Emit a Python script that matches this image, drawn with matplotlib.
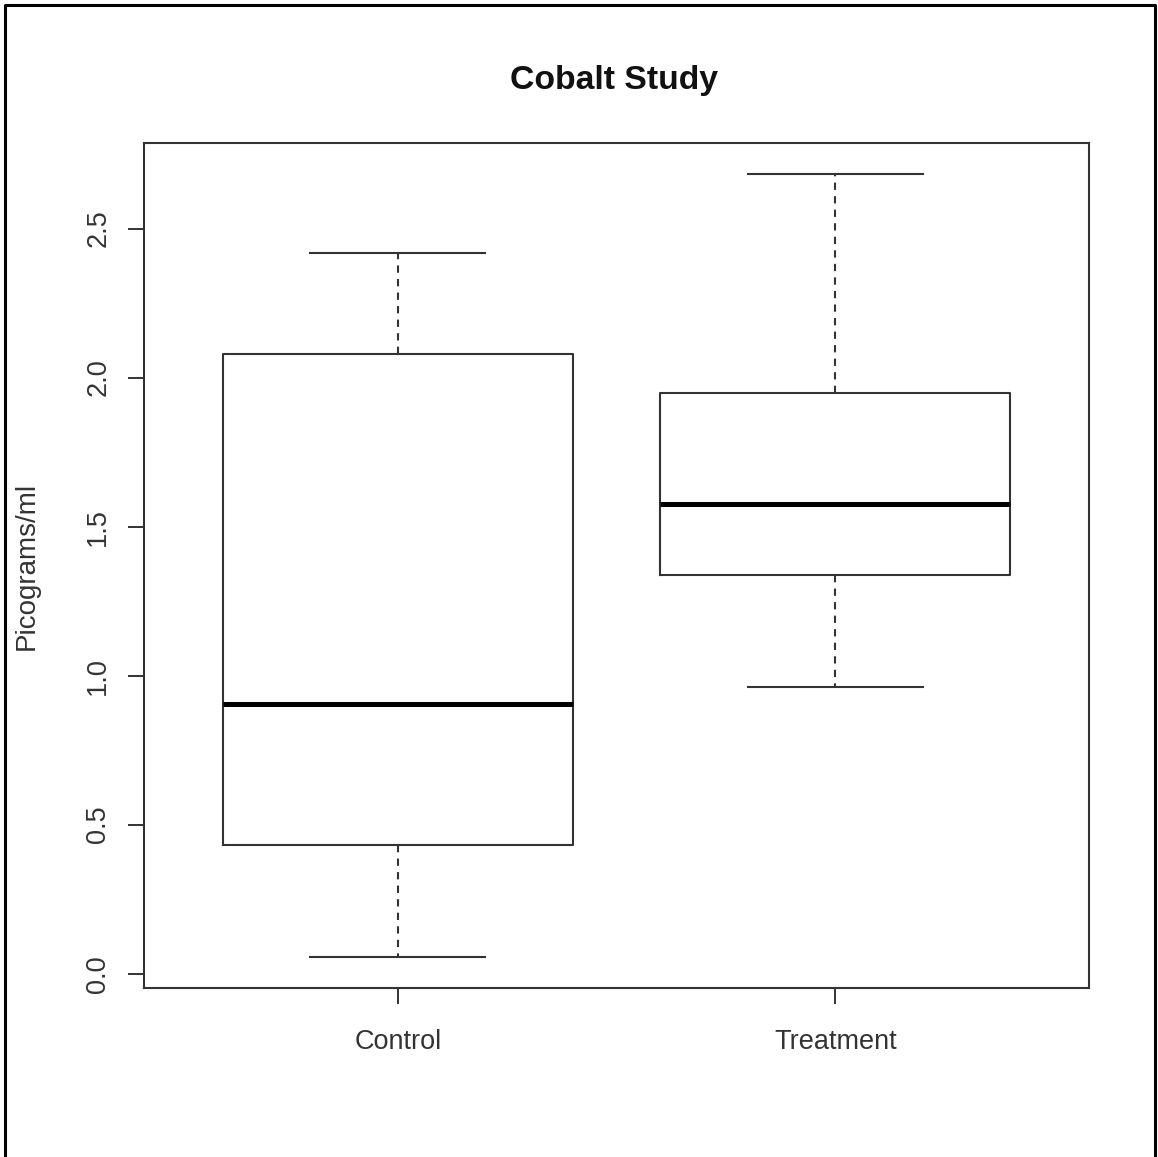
import matplotlib.pyplot as plt
from matplotlib.lines import Line2D

# five-number summaries (R-style boxplot)
groups = ["Control", "Treatment"]
whisker_low = [0.057, 0.962]
q1 = [0.431, 1.336]
medians = [0.905, 1.575]
q3 = [2.079, 1.948]
whisker_high = [2.419, 2.682]

plt.rcParams['font.family'] = ['Liberation Sans', 'DejaVu Sans']

fig = plt.figure(figsize=(11.58, 11.57), dpi=100)
ax = fig.add_axes([144 / 1158, 1 - 988 / 1157, 945 / 1158, 845 / 1157])

stats = []
for i, name in enumerate(groups):
    stats.append({
        'label': name,
        'whislo': whisker_low[i],
        'q1': q1[i],
        'med': medians[i],
        'q3': q3[i],
        'whishi': whisker_high[i],
        'fliers': [],
    })

line_col = '#333333'
ax.bxp(stats, positions=[1, 2], widths=0.8, showfliers=False,
       boxprops=dict(color=line_col, linewidth=1.5),
       medianprops=dict(color='black', linewidth=3.6, solid_capstyle='butt'),
       whiskerprops=dict(color=line_col, linewidth=1.5, linestyle=(0, (3.5, 3))),
       capprops=dict(color=line_col, linewidth=1.5),
       capwidths=0.4)

# R adds 4% padding on each axis
lo, hi = min(whisker_low), max(whisker_high)
pad = (hi - lo) * 0.04
ax.set_ylim(lo - pad, hi + pad)
ax.set_xlim(0.5 - 0.08, 2.5 + 0.08)

ax.set_yticks([0.0, 0.5, 1.0, 1.5, 2.0, 2.5])
ax.set_yticklabels(['0.0', '0.5', '1.0', '1.5', '2.0', '2.5'], rotation=90, va='center')
ax.set_xticks([1, 2])
ax.set_xticklabels(groups)

ax.tick_params(axis='both', length=11.5, width=1.4, color=line_col,
               labelsize=19.5, labelcolor='#333333')
ax.tick_params(axis='y', pad=12)
ax.tick_params(axis='x', pad=18)
for sp in ax.spines.values():
    sp.set_color(line_col)
    sp.set_linewidth(1.5)

ax.set_ylabel('Picograms/ml', fontsize=20, color='#333333')
ax.yaxis.set_label_coords(-(144 - 40) / 945, 0.5)
fig.text(614 / 1158, 1 - 80 / 1157, 'Cobalt Study', fontsize=24.3,
         fontweight='bold', ha='center', va='center', color='#111111')

# outer frame of the screenshot (bottom edge is cut off)
x0, x1, y0 = 5 / 1158, 1155 / 1158, 1 - 5 / 1157
fig.add_artist(Line2D([x0, x0, x1, x1], [0, y0, y0, 0],
                      transform=fig.transFigure, color='black', linewidth=2.2))

plt.savefig('out.png', dpi=100)
